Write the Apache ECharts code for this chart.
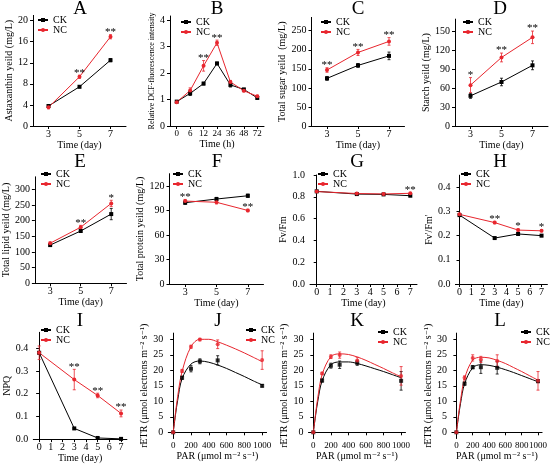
<!DOCTYPE html>
<html>
<head>
<meta charset="utf-8">
<script src="https://cdn.jsdelivr.net/npm/echarts@6/dist/echarts.min.js"></script>
</head>
<body style="margin:0;background:#fff">
<div id="container" style="width:550px;height:464px"></div>
<script>
// ---------- data ----------
var dayTicks = [3, 5, 7];
var weekDays = [0, 3, 5, 7];
var weekTicks = [0, 1, 2, 3, 4, 5, 6, 7];

// A astaxanthin
var astaTicks = [0, 4, 8, 12, 16, 20];
var astaCK = [3.8, 7.45, 12.5];
var astaCKErr = [0.25, 0.2, 0.3];
var astaNC = [3.55, 9.35, 16.95];
var astaNCErr = [0.3, 0.3, 0.4];
var astaSig = ['', '**', '**'];

// B DCF fluorescence
var dcfHours = ['0', '6', '12', '24', '36', '48', '72'];
var dcfIdx = [0, 1, 2, 3, 4, 5, 6];
var dcfTicks = [0, 1, 2, 3, 4];
var dcfCK = [0.92, 1.23, 1.6, 2.36, 1.55, 1.38, 1.06];
var dcfCKErr = [0.02, 0.08, 0.05, 0.05, 0.08, 0.04, 0.05];
var dcfNC = [0.9, 1.34, 2.27, 3.14, 1.66, 1.33, 1.12];
var dcfNCErr = [0.02, 0.1, 0.2, 0.1, 0.06, 0.04, 0.04];
var dcfSig = ['', '', '**', '**', '', '', ''];

// C total sugar
var sugarTicks = [0, 50, 100, 150, 200, 250];
var sugarCK = [125, 159, 184];
var sugarCKErr = [5, 5, 10];
var sugarNC = [147, 193, 222];
var sugarNCErr = [6, 8, 10];
var sugarSig = ['**', '**', '**'];

// D starch
var starchTicks = [0, 30, 60, 90, 120, 150];
var starchCK = [48, 70, 96.5];
var starchCKErr = [4, 6, 7];
var starchNC = [65, 109, 141];
var starchNCErr = [12, 7, 10];
var starchSig = ['*', '**', '**'];

// E total lipid
var lipidTicks = [0, 50, 100, 150, 200, 250, 300];
var lipidCK = [122, 167, 221];
var lipidCKErr = [4, 4, 18];
var lipidNC = [128, 179, 255];
var lipidNCErr = [4, 6, 10];
var lipidSig = ['', '**', '*'];

// F total protein
var protTicks = [0, 30, 60, 90, 120];
var protCK = [99.5, 104, 108];
var protCKErr = [2, 2, 2];
var protNC = [101.5, 100, 90];
var protNCErr = [2, 2, 1.5];
var protSig = ['**', '', '**'];

// G Fv/Fm
var fvfmTicks = [0, 0.2, 0.4, 0.6, 0.8, 1.0];
var fvfmCK = [0.85, 0.825, 0.822, 0.81];
var fvfmCKErr = [0.005, 0.005, 0.005, 0.006];
var fvfmNC = [0.848, 0.83, 0.826, 0.832];
var fvfmNCErr = [0.005, 0.005, 0.005, 0.005];
var fvfmSig = ['', '', '', '**'];

// H Fv'/Fm'
var phiTicks = [0, 0.1, 0.2, 0.3, 0.4];
var phiCK = [0.285, 0.19, 0.207, 0.2];
var phiCKErr = [0.004, 0.003, 0.005, 0.004];
var phiNC = [0.288, 0.254, 0.223, 0.22];
var phiNCErr = [0.004, 0.005, 0.005, 0.004];
var phiSig = ['', '**', '*', '*'];

// I NPQ
var npqTicks = [0, 0.1, 0.2, 0.3, 0.4];
var npqCK = [0.38, 0.047, 0.005, 0.001];
var npqCKErr = [0.005, 0.003, 0.002, 0.001];
var npqNC = [0.38, 0.262, 0.192, 0.113];
var npqNCErr = [0.03, 0.045, 0.01, 0.015];
var npqSig = ['', '**', '**', '**'];

var parPoints = [0, 100, 200, 300, 500, 1000];
var parFit = [0, 25, 50, 100, 200, 300, 400, 500, 600, 700, 800, 900, 1000];
var parTicks = [0, 200, 400, 600, 800, 1000];
var etrTicks = [0, 5, 10, 15, 20, 25, 30];

var etrCK1 = [0, 17.6, 20.5, 22.9, 23.2, 15];
var etrCK1Err = [0, 0.5, 1, 0.8, 1.5, 0.4];
var etrNC1 = [0, 19.8, 27.6, 29.9, 28.4, 23.3];
var etrNC1Err = [0, 0.5, 0.5, 0.4, 1.4, 3];
var fitCK1 = [0, 5.5, 10.3, 17.3, 22, 23, 22.6, 21.7, 20.6, 19.3, 18, 16.6, 15.3];
var fitNC1 = [0, 6, 11.5, 19.6, 27.6, 30, 30, 29.2, 28.1, 26.9, 25.6, 24.2, 22.8];

var etrCK2 = [0, 16.7, 21.5, 21.8, 22.4, 16.6];
var etrCK2Err = [0, 0.5, 0.8, 1.2, 0.8, 3];
var etrNC2 = [0, 19, 24.4, 24.9, 23.2, 18.2];
var etrNC2Err = [0, 0.4, 0.6, 1, 1, 3];
var fitCK2 = [0, 5.3, 9.9, 16.6, 21.8, 22.7, 22.7, 22.2, 21.4, 20.5, 19.6, 18.6, 17.6];
var fitNC2 = [0, 5.8, 11, 18.6, 24.4, 25.3, 25.1, 24.3, 23.2, 21.9, 20.6, 19.2, 17.9];

var etrCK3 = [0, 15.7, 21, 21, 20.8, 16.5];
var etrCK3Err = [0, 0.5, 0.5, 2, 2, 0.5];
var etrNC3 = [0, 17.6, 24, 23.5, 23, 16.6];
var etrNC3Err = [0, 0.6, 1, 1, 2, 3];
var fitCK3 = [0, 4.9, 9.2, 15.6, 20.8, 21.8, 21.6, 21, 20.2, 19.3, 18.3, 17.3, 16.3];
var fitNC3 = [0, 5.4, 10.2, 17.3, 23.3, 24.2, 24, 23.2, 22.2, 20.9, 19.6, 18.2, 16.8];

// ---------- chart ----------
var FONT = '"Liberation Serif", "DejaVu Serif", serif';
var CK_COLOR = '#000000';
var NC_COLOR = '#e8262e';

var option = {
    animation: false,
    backgroundColor: '#ffffff',
    textStyle: { fontFamily: FONT },
    grid: [], xAxis: [], yAxis: [], title: [], legend: [], series: []
};

function zip(xs, ys) {
    return xs.map(function (x, i) { return [x, ys[i]]; });
}
function errData(xs, ys, es) {
    return xs.map(function (x, i) { return [x, ys[i] - es[i], ys[i] + es[i]]; });
}

function errSeries(idx, xs, ys, es, color) {
    return {
        type: 'custom', xAxisIndex: idx, yAxisIndex: idx, silent: true, z: 1,
        data: errData(xs, ys, es),
        encode: { x: 0, y: [1, 2] },
        renderItem: function (params, api) {
            var top = api.coord([api.value(0), api.value(2)]);
            var bot = api.coord([api.value(0), api.value(1)]);
            var w = 1.5;
            var st = { stroke: color, lineWidth: 0.8 };
            return { type: 'group', children: [
                { type: 'line', shape: { x1: top[0], y1: top[1], x2: bot[0], y2: bot[1] }, style: st },
                { type: 'line', shape: { x1: top[0] - w, y1: top[1], x2: top[0] + w, y2: top[1] }, style: st },
                { type: 'line', shape: { x1: bot[0] - w, y1: bot[1], x2: bot[0] + w, y2: bot[1] }, style: st }
            ] };
        }
    };
}

// significance stars sit just above the NC error bar
function sigSeries(idx, xs, ys, es, marks) {
    return {
        type: 'custom', xAxisIndex: idx, yAxisIndex: idx, silent: true, z: 3,
        data: errData(xs, ys, es),
        encode: { x: 0, y: 2 },
        renderItem: function (params, api) {
            var txt = marks[params.dataIndex];
            if (!txt) return;
            var p = api.coord([api.value(0), api.value(2)]);
            return { type: 'text', x: p[0], y: p[1] + 3, style: {
                text: txt, fill: '#000', font: '11px ' + FONT, align: 'center', verticalAlign: 'bottom'
            } };
        }
    };
}

function lineSeries(idx, name, data, color, symbol, extra) {
    var s = {
        type: 'line', name: name, xAxisIndex: idx, yAxisIndex: idx, z: 2,
        data: data, symbol: symbol, symbolSize: 4,
        lineStyle: { color: color, width: 1 },
        itemStyle: { color: color }
    };
    for (var k in extra) s[k] = extra[k];
    return s;
}

function axisCommon() {
    return {
        axisLine: { show: true, lineStyle: { color: '#000', width: 1 } },
        axisTick: { show: true, length: 3, lineStyle: { color: '#000', width: 1 } },
        axisLabel: { color: '#000', fontFamily: FONT, fontSize: 10, hideOverlap: false },
        splitLine: { show: false },
        nameTextStyle: { color: '#000', fontFamily: FONT, fontSize: 10 }
    };
}

function valueAxis(cfg) {
    var a = axisCommon();
    a.type = 'value';
    a.min = cfg.min; a.max = cfg.max;
    a.axisTick.customValues = cfg.ticks;
    a.axisLabel.customValues = cfg.ticks;
    a.axisLabel.showMinLabel = true;
    a.axisLabel.showMaxLabel = true;
    if (cfg.fontSize) a.axisLabel.fontSize = cfg.fontSize;
    a.axisLabel.formatter = function (v) {
        return cfg.decimals != null ? v.toFixed(cfg.decimals) : String(v);
    };
    return a;
}

function addPanel(p) {
    var i = option.grid.length;
    option.grid.push({ left: p.box[0], top: p.box[1], width: p.box[2], height: p.box[3] });
    option.title.push({
        text: p.title, left: p.titlePos[0], top: p.titlePos[1], textAlign: 'center', padding: 0,
        textStyle: { fontFamily: FONT, fontSize: 19, fontWeight: 'normal', color: '#000' }
    });
    option.legend.push({
        data: ['CK', 'NC'], orient: 'vertical', left: p.legendPos[0], top: p.legendPos[1],
        padding: 0, itemGap: 0, itemWidth: 10, itemHeight: 5, selectedMode: false,
        textStyle: { fontFamily: FONT, fontSize: 10, lineHeight: 10, color: '#000' }
    });

    var xa;
    if (p.categories) {
        xa = axisCommon();
        xa.type = 'category';
        xa.data = p.categories;
        xa.boundaryGap = true;
        xa.axisTick.alignWithLabel = true;
        xa.axisLabel.interval = 0;
        xa.axisLabel.fontSize = 9;
    } else {
        xa = valueAxis(p.xAxis);
    }
    xa.gridIndex = i;
    xa.name = p.xName; xa.nameLocation = 'middle'; xa.nameGap = 12.5;
    xa.axisLabel.margin = 3;
    option.xAxis.push(xa);

    var ya = valueAxis(p.yAxis);
    ya.gridIndex = i;
    ya.name = p.yName; ya.nameLocation = 'middle'; ya.nameGap = p.yGap;
    ya.axisLabel.margin = 5;
    if (p.yNameSize) ya.nameTextStyle.fontSize = p.yNameSize;
    option.yAxis.push(ya);

    if (p.fit) {
        option.series.push(lineSeries(i, 'CK', zip(p.fitX, p.fit[0]), CK_COLOR, 'rect',
            { showSymbol: false, smooth: 0.35 }));
        option.series.push(lineSeries(i, 'NC', zip(p.fitX, p.fit[1]), NC_COLOR, 'circle',
            { showSymbol: false, smooth: 0.35 }));
        option.series.push({ type: 'scatter', name: 'CK', xAxisIndex: i, yAxisIndex: i, z: 3,
            data: zip(p.x, p.ck), symbol: 'rect', symbolSize: 4, itemStyle: { color: CK_COLOR } });
        option.series.push({ type: 'scatter', name: 'NC', xAxisIndex: i, yAxisIndex: i, z: 3,
            data: zip(p.x, p.nc), symbol: 'circle', symbolSize: 4, itemStyle: { color: NC_COLOR } });
    } else {
        option.series.push(lineSeries(i, 'CK', zip(p.x, p.ck), CK_COLOR, 'rect', {}));
        option.series.push(lineSeries(i, 'NC', zip(p.x, p.nc), NC_COLOR, 'circle', {}));
    }
    option.series.push(errSeries(i, p.x, p.ck, p.ckErr, CK_COLOR));
    option.series.push(errSeries(i, p.x, p.nc, p.ncErr, NC_COLOR));
    if (p.sig) option.series.push(sigSeries(i, p.x, p.nc, p.ncErr, p.sig));
}

var dayAxis = { min: 2, max: 8, ticks: dayTicks };

// row 1
addPanel({ title: 'A', titlePos: [80, 0], legendPos: [37, 15], box: [33, 15.4, 93, 110.6],
    xAxis: dayAxis, yAxis: { min: 0, max: 21, ticks: astaTicks },
    xName: 'Time (day)', yName: 'Astaxanthin yeild (mg/L)', yGap: 14,
    x: dayTicks, ck: astaCK, ckErr: astaCKErr, nc: astaNC, ncErr: astaNCErr, sig: astaSig });
addPanel({ title: 'B', titlePos: [217, 0], legendPos: [180, 17], box: [170, 16, 94, 110],
    categories: dcfHours, yAxis: { min: 0, max: 4.15, ticks: dcfTicks },
    xName: 'Time (h)', yName: 'Relative DCF-fluorescence intensity', yGap: 13, yNameSize: 8,
    x: dcfIdx, ck: dcfCK, ckErr: dcfCKErr, nc: dcfNC, ncErr: dcfNCErr, sig: dcfSig });
addPanel({ title: 'C', titlePos: [358, 0], legendPos: [320, 17], box: [311.5, 17.4, 93, 108.6],
    xAxis: dayAxis, yAxis: { min: 0, max: 285, ticks: sugarTicks },
    xName: 'Time (day)', yName: 'Total sugar yeild  (mg/L)', yGap: 21,
    x: dayTicks, ck: sugarCK, ckErr: sugarCKErr, nc: sugarNC, ncErr: sugarNCErr, sig: sugarSig });
addPanel({ title: 'D', titlePos: [500, 0], legendPos: [462, 17], box: [455, 19.1, 93, 106.9],
    xAxis: dayAxis, yAxis: { min: 0, max: 170, ticks: starchTicks },
    xName: 'Time (day)', yName: 'Starch yeild (mg/L)', yGap: 17,
    x: dayTicks, ck: starchCK, ckErr: starchCKErr, nc: starchNC, ncErr: starchNCErr, sig: starchSig });

// row 2
addPanel({ title: 'E', titlePos: [80, 153], legendPos: [40, 169], box: [33.5, 176.8, 93, 106.5],
    xAxis: dayAxis, yAxis: { min: 0, max: 340, ticks: lipidTicks },
    xName: 'Time (day)', yName: 'Total lipid yeild (mg/L)', yGap: 21,
    x: dayTicks, ck: lipidCK, ckErr: lipidCKErr, nc: lipidNC, ncErr: lipidNCErr, sig: lipidSig });
addPanel({ title: 'F', titlePos: [217, 153], legendPos: [172, 169], box: [169.5, 173.7, 94, 110.3],
    xAxis: dayAxis, yAxis: { min: 0, max: 135, ticks: protTicks },
    xName: 'Time (day)', yName: 'Total protein yeild (mg/L)', yGap: 19,
    x: dayTicks, ck: protCK, ckErr: protCKErr, nc: protNC, ncErr: protNCErr, sig: protSig });
addPanel({ title: 'G', titlePos: [357, 153], legendPos: [317, 169], box: [310, 175, 107, 109],
    xAxis: { min: -0.5, max: 7.5, ticks: weekTicks }, yAxis: { min: 0, max: 1.0, ticks: fvfmTicks, decimals: 1 },
    xName: 'Time (day)', yName: 'Fv/Fm', yGap: 17,
    x: weekDays, ck: fvfmCK, ckErr: fvfmCKErr, nc: fvfmNC, ncErr: fvfmNCErr, sig: fvfmSig });
addPanel({ title: 'H', titlePos: [500, 153], legendPos: [460, 169], box: [455.4, 175.2, 92, 108.8],
    xAxis: { min: -0.35, max: 7.5, ticks: weekTicks }, yAxis: { min: 0, max: 0.45, ticks: phiTicks, decimals: 1 },
    xName: 'Time (day)', yName: "Fv'/Fm'", yGap: 13,
    x: weekDays, ck: phiCK, ckErr: phiCKErr, nc: phiNC, ncErr: phiNCErr, sig: phiSig });

// row 3
addPanel({ title: 'I', titlePos: [80, 312], legendPos: [40, 325], box: [33.3, 332.3, 93.6, 107.7],
    xAxis: { min: -0.5, max: 7.5, ticks: weekTicks }, yAxis: { min: 0, max: 0.47, ticks: npqTicks, decimals: 1 },
    xName: 'Time (day)', yName: 'NPQ', yGap: 16,
    x: weekDays, ck: npqCK, ckErr: npqCKErr, nc: npqNC, ncErr: npqNCErr, sig: npqSig });

var parAxis = { min: -55, max: 1050, ticks: parTicks, fontSize: 9 };
var etrAxis = { min: -2, max: 32, ticks: etrTicks };
var etrName = 'rETR (μmol electrons m⁻² s⁻¹)';
var parName = 'PAR (μmol m⁻² s⁻¹)';

addPanel({ title: 'J', titlePos: [218, 312], legendPos: [245, 325], box: [168.3, 333.1, 98.3, 105.4],
    xAxis: parAxis, yAxis: etrAxis, xName: parName, yName: etrName, yGap: 17,
    x: parPoints, ck: etrCK1, ckErr: etrCK1Err, nc: etrNC1, ncErr: etrNC1Err,
    fitX: parFit, fit: [fitCK1, fitNC1] });
addPanel({ title: 'K', titlePos: [357, 312], legendPos: [377, 327], box: [308.5, 333.1, 97, 105.4],
    xAxis: parAxis, yAxis: etrAxis, xName: parName, yName: etrName, yGap: 19,
    x: parPoints, ck: etrCK2, ckErr: etrCK2Err, nc: etrNC2, ncErr: etrNC2Err,
    fitX: parFit, fit: [fitCK2, fitNC2] });
addPanel({ title: 'L', titlePos: [500, 312], legendPos: [520, 327], box: [451.9, 333.1, 94, 105.4],
    xAxis: parAxis, yAxis: etrAxis, xName: parName, yName: etrName, yGap: 15,
    x: parPoints, ck: etrCK3, ckErr: etrCK3Err, nc: etrNC3, ncErr: etrNC3Err,
    fitX: parFit, fit: [fitCK3, fitNC3] });

var chart = echarts.init(document.getElementById('container'));
chart.setOption(option);
</script>
</body>
</html>
